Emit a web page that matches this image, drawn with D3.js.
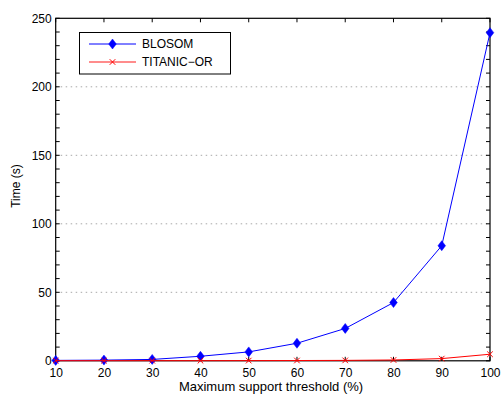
<!DOCTYPE html>
<html>
<head>
<meta charset="utf-8">
<script src="https://cdn.jsdelivr.net/npm/d3@7"></script>
<style>
  html, body { margin: 0; padding: 0; background: #fff; }
  svg { display: block; font-family: "Liberation Sans", Arial, Helvetica, sans-serif; }
</style>
</head>
<body>
<svg id="chart" width="503" height="394"></svg>
<script>
// Maximum support threshold (%) on the x axis
const thresholds = [10, 20, 30, 40, 50, 60, 70, 80, 90, 100];
// Running time in seconds for each method
const blosom = [0.3, 0.5, 1.0, 3.3, 6.5, 12.8, 23.6, 42.5, 84, 239.5];
const titanic = [0.1, 0.1, 0.1, 0.1, 0.15, 0.2, 0.3, 0.6, 1.6, 4.8];
const seriesNames = ["BLOSOM", "TITANIC\u2212OR"];
const yTicks = [0, 50, 100, 150, 200, 250];

(function () {
const svg = d3.select("#chart");
const pLeft = 55.7, pRight = 490, pTop = 18.3, pBottom = 360.8;

const x = d3.scaleLinear().domain([10, 100]).range([pLeft, pRight]);
const y = d3.scaleLinear().domain([0, 250]).range([pBottom, pTop]);

// Dotted horizontal grid
svg.append("g").selectAll("line")
  .data(yTicks.filter(v => v > 0 && v < 250))
  .join("line")
  .attr("x1", pLeft).attr("x2", pRight)
  .attr("y1", d => y(d)).attr("y2", d => y(d))
  .attr("stroke", "#a8a8a8").attr("stroke-width", 1)
  .attr("stroke-dasharray", "1.5,3.5");

// Axes with inward ticks
const minorY = d3.range(0, 251, 10);
const tickLen = 4;

const axisLeft = d3.axisLeft(y).tickValues(yTicks).tickSize(0).tickPadding(4);
const gL = svg.append("g").attr("transform", `translate(${pLeft},0)`).call(axisLeft);
gL.select(".domain").remove();
gL.selectAll("text").attr("font-size", 12).attr("fill", "#000")
  .attr("font-family", "Liberation Sans, Arial, sans-serif");

const axisBottom = d3.axisBottom(x).tickValues(thresholds).tickSize(0).tickPadding(7.7);
const gB = svg.append("g").attr("transform", `translate(0,${pBottom})`).call(axisBottom);
gB.select(".domain").remove();
gB.selectAll("text").attr("font-size", 12).attr("fill", "#000")
  .attr("font-family", "Liberation Sans, Arial, sans-serif");

const ticks = svg.append("g").attr("stroke", "#000").attr("stroke-width", 1);
minorY.forEach(v => {
  ticks.append("line").attr("x1", pLeft).attr("x2", pLeft + tickLen)
    .attr("y1", y(v)).attr("y2", y(v));
  ticks.append("line").attr("x1", pRight).attr("x2", pRight - tickLen)
    .attr("y1", y(v)).attr("y2", y(v));
});
thresholds.forEach(v => {
  ticks.append("line").attr("x1", x(v)).attr("x2", x(v))
    .attr("y1", pBottom).attr("y2", pBottom - tickLen);
  ticks.append("line").attr("x1", x(v)).attr("x2", x(v))
    .attr("y1", pTop).attr("y2", pTop + tickLen);
});

// Plot frame
svg.append("rect")
  .attr("x", pLeft).attr("y", pTop)
  .attr("width", pRight - pLeft).attr("height", pBottom - pTop)
  .attr("fill", "none").attr("stroke", "#000").attr("stroke-width", 1.2);

// Axis titles
svg.append("text")
  .attr("x", 271).attr("y", 390.5)
  .attr("text-anchor", "middle").attr("font-size", 13)
  .text("Maximum support threshold (%)");
svg.append("text")
  .attr("transform", "translate(19.5,186) rotate(-90)")
  .attr("text-anchor", "middle").attr("font-size", 12)
  .text("Time (s)");

const line = d3.line().x((d, i) => x(thresholds[i])).y(d => y(d));
const diamond = (cx, cy) => `M${cx},${cy - 5}L${cx + 3.8},${cy}L${cx},${cy + 5}L${cx - 3.8},${cy}Z`;
const cross = (cx, cy) => `M${cx - 2.8},${cy - 2.8}L${cx + 2.8},${cy + 2.8}M${cx - 2.8},${cy + 2.8}L${cx + 2.8},${cy - 2.8}`;

// BLOSOM series
svg.append("path").datum(blosom).attr("d", line)
  .attr("fill", "none").attr("stroke", "#0000ff").attr("stroke-width", 1);
svg.append("g").selectAll("path").data(blosom).join("path")
  .attr("d", (d, i) => diamond(x(thresholds[i]), y(d)))
  .attr("fill", "#0000ff").attr("stroke", "#0000ff").attr("stroke-width", 0.5);

// TITANIC-OR series
svg.append("path").datum(titanic).attr("d", line)
  .attr("fill", "none").attr("stroke", "#ff0000").attr("stroke-width", 1);
svg.append("g").selectAll("path").data(titanic).join("path")
  .attr("d", (d, i) => cross(x(thresholds[i]), y(d)))
  .attr("fill", "none").attr("stroke", "#ff0000").attr("stroke-width", 1);

// Legend
const lg = svg.append("g");
lg.append("rect").attr("x", 79.5).attr("y", 32.5).attr("width", 151).attr("height", 41.5)
  .attr("fill", "#fff").attr("stroke", "#000").attr("stroke-width", 1);
const legendRows = [
  { name: seriesNames[0], color: "#0000ff", cy: 44, mark: diamond },
  { name: seriesNames[1], color: "#ff6666", cy: 62, mark: cross }
];
legendRows.forEach((r, k) => {
  lg.append("line").attr("x1", 89).attr("x2", 136).attr("y1", r.cy).attr("y2", r.cy)
    .attr("stroke", r.color).attr("stroke-width", k === 0 ? 1 : 1.5);
  lg.append("path").attr("d", r.mark(112.5, r.cy))
    .attr("fill", k === 0 ? "#0000ff" : "none")
    .attr("stroke", k === 0 ? "#0000ff" : "#ff0000").attr("stroke-width", k === 0 ? 0.5 : 1);
  lg.append("text").attr("x", 142).attr("y", r.cy + 4.3)
    .attr("font-size", 12).text(r.name);
});
})();
</script>
</body>
</html>
